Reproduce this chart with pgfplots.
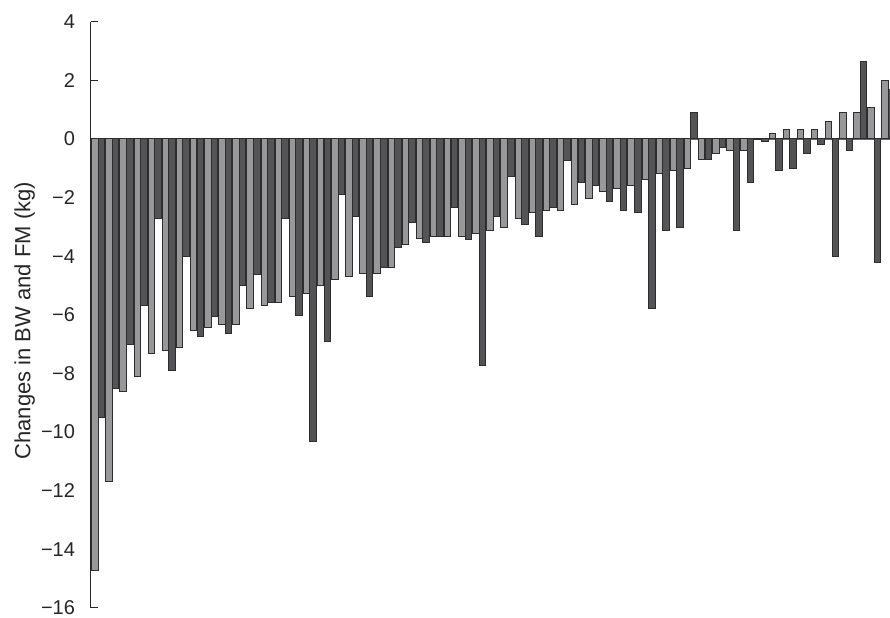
\documentclass[border=0pt]{standalone}
\usepackage{pgfplots}
\pgfplotsset{compat=1.18}
\usepackage{pgfplotstable}
\usepackage{fontspec}
\setmainfont{Liberation Sans}

\definecolor{bwgray}{RGB}{152,152,154}
\definecolor{fmgray}{RGB}{84,84,86}
\definecolor{barline}{RGB}{45,45,45}

% one row per subject: change in body weight (bw) and fat mass (fm), kg
\pgfplotstableread{
id bw fm
1 -14.73 -9.49
2 -11.70 -8.50
3 -8.61 -7.02
4 -8.10 -5.68
5 -7.33 -2.73
6 -7.22 -7.91
7 -7.13 -4.01
8 -6.52 -6.73
9 -6.42 -6.05
10 -6.32 -6.63
11 -6.34 -5.00
12 -5.80 -4.61
13 -5.69 -5.59
14 -5.59 -2.73
15 -5.38 -6.03
16 -5.28 -10.34
17 -5.00 -6.92
18 -4.81 -1.89
19 -4.69 -2.63
20 -4.60 -5.38
21 -4.60 -4.40
22 -4.40 -3.70
23 -3.61 -2.84
24 -3.41 -3.52
25 -3.32 -3.32
26 -3.32 -2.34
27 -3.32 -3.42
28 -3.22 -7.73
29 -3.11 -2.63
30 -3.02 -1.28
31 -2.73 -2.92
32 -2.52 -3.32
33 -2.43 -2.34
34 -2.43 -0.72
35 -2.23 -1.49
36 -2.03 -1.58
37 -1.78 -2.14
38 -1.69 -2.43
39 -1.58 -2.52
40 -1.39 -5.80
41 -1.18 -3.11
42 -1.09 -3.02
43 -1.00 0.90
44 -0.69 -0.69
45 -0.49 -0.30
46 -0.40 -3.13
47 -0.40 -1.49
48 -0.03 -0.10
49 0.19 -1.09
50 0.31 -0.99
51 0.31 -0.51
52 0.31 -0.20
53 0.61 -4.01
54 0.91 -0.40
55 0.91 2.64
56 1.09 -4.20
57 1.99 1.69
}\weights

\begin{document}
\begin{tikzpicture}
    \useasboundingbox (-45.5pt,-4.6pt) rectangle (399.5pt,303.9pt);
    \begin{axis}[
            at={(0,0)}, anchor=south west,
            scale only axis,
            width=399.5pt, height=293pt,
            xmin=0.485, xmax=57.11,
            ymin=-16, ymax=4,
            axis y line*=left,
            axis x line*=middle,
            y axis line style={draw=black!85, line width=0.5pt},
            x axis line style={draw=black!60, line width=0.6pt},
            xtick=\empty,
            ytick={-16,-14,...,4},
            yticklabels={−16,−14,−12,−10,−8,−6,−4,−2,0,2,4},
            tick align=inside,
            major tick length=3.3pt,
            ytick style={draw=black!85, line width=0.5pt},
            yticklabel shift=4.5pt,
            tick label style={font=\fontsize{10}{12}\selectfont, text=black!85},
            ylabel={Changes in BW and FM (kg)},
            ylabel style={at={(axis description cs:-0.083,0.49)}, anchor=center,
                font=\fontsize{11}{13}\selectfont, text=black!85},
            ybar,
            bar width=0.46,
        ]
        \addplot[ybar, bar shift=-0.235, fill=bwgray, draw=barline, line width=0.5pt]
            table[x=id, y=bw] {\weights};
        \addplot[ybar, bar shift=0.235, fill=fmgray, draw=barline, line width=0.5pt]
            table[x=id, y=fm] {\weights};
    \end{axis}
\end{tikzpicture}
\end{document}
